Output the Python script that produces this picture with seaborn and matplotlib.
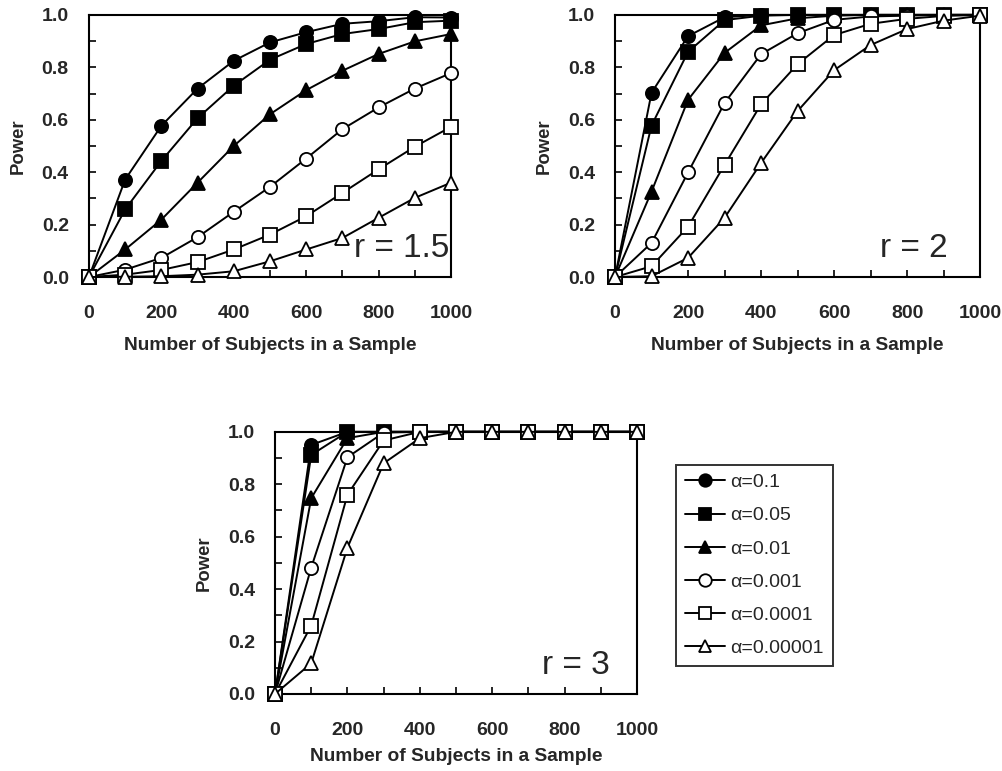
import numpy as np
import pandas as pd
import seaborn as sns
import matplotlib.pyplot as plt
from matplotlib.lines import Line2D
from matplotlib.ticker import MultipleLocator

n_subjects = [0, 100, 200, 300, 400, 500, 600, 700, 800, 900, 1000]
alpha_labels = ['α=0.1', 'α=0.05', 'α=0.01', 'α=0.001', 'α=0.0001', 'α=0.00001']

# power curves, one list per alpha level
power_r15 = {
    'α=0.1':     [0, 0.372, 0.577, 0.719, 0.825, 0.895, 0.934, 0.966, 0.976, 0.991, 0.990],
    'α=0.05':    [0, 0.258, 0.443, 0.606, 0.730, 0.829, 0.889, 0.927, 0.946, 0.972, 0.978],
    'α=0.01':    [0, 0.105, 0.219, 0.360, 0.500, 0.621, 0.713, 0.787, 0.851, 0.899, 0.927],
    'α=0.001':   [0, 0.028, 0.073, 0.152, 0.249, 0.344, 0.452, 0.564, 0.647, 0.719, 0.778],
    'α=0.0001':  [0, 0.009, 0.027, 0.057, 0.105, 0.162, 0.232, 0.321, 0.411, 0.497, 0.573],
    'α=0.00001': [0, 0.001, 0.003, 0.009, 0.022, 0.060, 0.105, 0.149, 0.226, 0.302, 0.360],
}
power_r2 = {
    'α=0.1':     [0, 0.703, 0.919, 0.991, 1.0, 1.0, 1.0, 1.0, 1.0, 1.0, 1.0],
    'α=0.05':    [0, 0.578, 0.859, 0.980, 0.997, 1.0, 1.0, 1.0, 1.0, 1.0, 1.0],
    'α=0.01':    [0, 0.326, 0.676, 0.855, 0.960, 0.987, 0.997, 1.0, 1.0, 1.0, 1.0],
    'α=0.001':   [0, 0.130, 0.399, 0.664, 0.850, 0.930, 0.981, 0.994, 0.997, 1.0, 1.0],
    'α=0.0001':  [0, 0.041, 0.192, 0.428, 0.659, 0.812, 0.923, 0.966, 0.985, 0.996, 1.0],
    'α=0.00001': [0, 0.003, 0.073, 0.226, 0.435, 0.633, 0.789, 0.885, 0.946, 0.978, 0.997],
}
power_r3 = {
    'α=0.1':     [0, 0.950, 1.0, 1.0, 1.0, 1.0, 1.0, 1.0, 1.0, 1.0, 1.0],
    'α=0.05':    [0, 0.912, 1.0, 1.0, 1.0, 1.0, 1.0, 1.0, 1.0, 1.0, 1.0],
    'α=0.01':    [0, 0.747, 0.976, 1.0, 1.0, 1.0, 1.0, 1.0, 1.0, 1.0, 1.0],
    'α=0.001':   [0, 0.482, 0.903, 0.997, 1.0, 1.0, 1.0, 1.0, 1.0, 1.0, 1.0],
    'α=0.0001':  [0, 0.261, 0.760, 0.967, 1.0, 1.0, 1.0, 1.0, 1.0, 1.0, 1.0],
    'α=0.00001': [0, 0.117, 0.558, 0.880, 0.976, 1.0, 1.0, 1.0, 1.0, 1.0, 1.0],
}

marker_of = {'α=0.1': 'o', 'α=0.05': 's', 'α=0.01': '^',
             'α=0.001': 'o', 'α=0.0001': 's', 'α=0.00001': '^'}
filled = {'α=0.1': True, 'α=0.05': True, 'α=0.01': True,
          'α=0.001': False, 'α=0.0001': False, 'α=0.00001': False}

sns.set_style('ticks')
plt.rcParams['font.family'] = ['Liberation Sans', 'DejaVu Sans']


def draw_panel(ax, power, r_text, r_x, xlab_y):
    for lab in alpha_labels:
        df = pd.DataFrame({'n': n_subjects, 'power': power[lab]})
        sns.lineplot(data=df, x='n', y='power', ax=ax, color='black',
                     linewidth=1.4, marker=marker_of[lab], markersize=9.5,
                     markerfacecolor='black' if filled[lab] else 'white',
                     markeredgecolor='black', markeredgewidth=1.3,
                     clip_on=False, zorder=3)
    ax.set_xlim(0, 1000)
    ax.set_ylim(0, 1.0)
    ax.xaxis.set_major_locator(MultipleLocator(200))
    ax.xaxis.set_minor_locator(MultipleLocator(100))
    ax.yaxis.set_major_locator(MultipleLocator(0.2))
    ax.yaxis.set_minor_locator(MultipleLocator(0.1))
    ax.yaxis.set_major_formatter(plt.FuncFormatter(lambda v, p: f'{v:.1f}'))
    ax.tick_params(which='both', direction='in', length=5, width=1.4)
    ax.tick_params(axis='x', which='major', pad=20, labelsize=14)
    ax.tick_params(axis='y', which='major', pad=14.5, labelsize=14)
    for t in ax.get_xticklabels() + ax.get_yticklabels():
        t.set_fontweight('bold')
    for sp in ax.spines.values():
        sp.set_visible(True)
        sp.set_linewidth(1.5)
        sp.set_color('black')
    ax.set_xlabel('Number of Subjects in a Sample', fontsize=13.8,
                  fontweight='bold')
    ax.set_ylabel('Power', fontsize=13.3, fontweight='bold')
    ax.xaxis.set_label_coords(0.5, xlab_y)
    ax.yaxis.set_label_coords(-0.171, 0.5)
    ax.text(r_x, 0.05, r_text, transform=ax.transAxes, ha='right',
            va='bottom', fontsize=24, zorder=5)


fig = plt.figure(figsize=(10.03, 7.71), dpi=100)
ax1 = fig.add_axes([0.0887, 0.6407, 0.361, 0.340])
ax2 = fig.add_axes([0.6132, 0.6407, 0.364, 0.340])
ax3 = fig.add_axes([0.2742, 0.0999, 0.361, 0.340])

draw_panel(ax1, power_r15, 'r = 1.5', 0.995, -0.228)
draw_panel(ax2, power_r2, 'r = 2', 0.91, -0.228)
draw_panel(ax3, power_r3, 'r = 3', 0.925, -0.205)

handles = [Line2D([], [], color='black', linewidth=1.4, marker=marker_of[lab],
                  markersize=9,
                  markerfacecolor='black' if filled[lab] else 'white',
                  markeredgecolor='black', markeredgewidth=1.3)
           for lab in alpha_labels]
leg = fig.legend(handles, alpha_labels, loc='upper left',
                 bbox_to_anchor=(0.674, 0.397), fontsize=14,
                 frameon=True, fancybox=False, handlelength=2.05,
                 handletextpad=0.3, labelspacing=0.8, borderpad=0.45,
                 borderaxespad=0)
leg.get_frame().set_edgecolor('black')
leg.get_frame().set_linewidth(1.4)

fig.savefig('out.png', dpi=100)
